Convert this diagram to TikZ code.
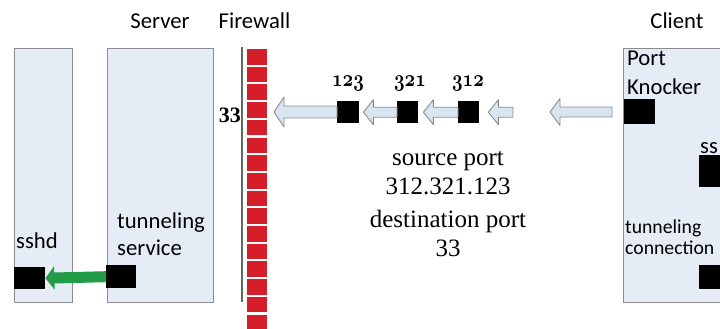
\documentclass[tikz,border=0pt]{standalone}
\usepackage{fontspec}
\usepackage{graphicx}
\setmainfont{Liberation Serif}
\newfontfamily\calfont{Carlito}
\usetikzlibrary{calc,arrows.meta}
\definecolor{panelfill}{RGB}{229,236,245}
\definecolor{panelline}{RGB}{140,140,140}
\definecolor{arrfill}{RGB}{218,229,242}
\definecolor{brickred}{RGB}{214,30,42}
\definecolor{greenarr}{RGB}{34,156,70}
\newcommand\hollowarrow[4]{% #1 tail, #2 tip, #3 head half-height, #4 shaft half-height
  \draw[hollow] let \p1=(#1), \p2=(#2) in
   (\x2,\y2) -- (\x2+10pt,\y2+#3) -- (\x2+10pt,\y2+#4) -- (\x1,\y2+#4)
   -- (\x1,\y2-#4) -- (\x2+10pt,\y2-#4) -- (\x2+10pt,\y2-#3) -- cycle;}
\newcommand\osf[1]{\scalebox{0.74}[0.95]{\fontsize{24.88}{26}\usefont{OML}{cmm}{b}{it}#1}}
\begin{document}
\begin{tikzpicture}[x=1pt,y=-1pt,
  panel/.style={draw=panelline,line width=1.1pt,fill=panelfill,anchor=north west,inner sep=0pt},
  blk/.style={fill=black,anchor=north west,inner sep=0pt},
  hollow/.style={draw=panelline,line width=0.9pt,fill=arrfill,line join=round},
  sanslbl/.style={font=\calfont\fontsize{22.7}{27}\selectfont,inner sep=0pt},
  smalllbl/.style={font=\calfont\fontsize{19.7}{21}\selectfont,inner sep=0pt},
  seriflbl/.style={font=\fontsize{25}{31}\selectfont,inner sep=0pt,anchor=base},
  numlbl/.style={inner sep=0pt,anchor=base},
  brick/.style={fill=brickred}]
\useasboundingbox (0,0) rectangle (720,329);
\clip (0,0) rectangle (720,329);
% panels
\node[panel,minimum width=58pt,minimum height=254pt] (sshdbox) at (14,48) {};
\node[panel,minimum width=106pt,minimum height=254pt] (srvbox) at (107,48) {};
\node[panel,minimum width=115pt,minimum height=254pt] (clibox) at (623,48) {};
% headers
\node[sanslbl,anchor=base] (hsrv) at (160,29) {Server};
\node[sanslbl,anchor=base] (hfw) at (254.5,29) {Firewall};
\node[sanslbl,anchor=base] (hcli) at (677,29) {Client};
% firewall
\draw[draw=gray!80!black,line width=1.2pt] (242,47) coordinate (fwtop) -- (242,302) coordinate (fwbot);
\foreach \i in {0,...,15}{
  \fill[brick] (247,{49+17.7*\i}) rectangle (267,{49+17.7*\i+15.6});
}
\node[font=\bfseries\fontsize{22}{24}\selectfont,inner sep=0pt,anchor=base east] (p33) at (241,122) {33};
% black squares
\node[blk,minimum width=31pt,minimum height=22pt] (sqsshd) at (14,267) {};
\node[blk,minimum width=30pt,minimum height=23pt] (sqtun) at (106,265) {};
\node[blk,minimum width=22pt,minimum height=22pt] (sq123) at (337,101) {};
\node[blk,minimum width=21pt,minimum height=22pt] (sq321) at (397,101) {};
\node[blk,minimum width=21pt,minimum height=22pt] (sq312) at (458,101) {};
\node[blk,minimum width=31pt,minimum height=25pt] (sqpk) at (624,99) {};
\node[blk,minimum width=30pt,minimum height=32pt] (sqssh) at (699,155) {};
\node[blk,minimum width=30pt,minimum height=24pt] (sqtc) at (699,265) {};
% port labels
\node[numlbl] (l123) at (348,86) {\osf{123}};
\node[numlbl] (l321) at (410,86) {\osf{321}};
\node[numlbl] (l312) at (468,86) {\osf{312}};
% hollow arrows
\coordinate (fwtip) at (274,112);
\coordinate (a3tail) at (513,112);
\coordinate (pktail) at (612,112);
\coordinate (pktip) at (550,112);
\hollowarrow{sq123.west}{fwtip}{15pt}{6pt}
\hollowarrow{sq321.west}{$(sq123.east)+(4,0)$}{12.5pt}{5pt}
\hollowarrow{sq312.west}{$(sq321.east)+(5,0)$}{12.5pt}{5pt}
\hollowarrow{a3tail}{$(sq312.east)+(9,0)$}{12.5pt}{5pt}
\hollowarrow{pktail}{pktip}{13.5pt}{5pt}
% green arrow
\draw[draw=greenarr,line width=11pt,-{Triangle[length=9pt,width=23pt]}] (sqtun.west) -- (sqsshd.east);
% text in panels
\node[sanslbl,anchor=base west] (tsshd) at (16,248) {sshd};
\node[sanslbl,anchor=base west] (ttun1) at (117,228) {tunneling};
\node[sanslbl,anchor=base west] (ttun2) at (117,255) {service};
\node[sanslbl,anchor=base west] (tport) at (627,66) {Port};
\node[sanslbl,anchor=base west] (tknock) at (627,94) {Knocker};
\node[sanslbl,anchor=base west] (tssh) at (700,153) {ss};
\node[smalllbl,anchor=base west] (ttc1) at (625,233) {tunneling};
\node[smalllbl,anchor=base west] (ttc2) at (625,254) {connection};
% description
\node[seriflbl] (d1) at (448,165) {source port};
\node[seriflbl] (d2) at (448,194) {312.321.123};
\node[seriflbl] (d3) at (448,227) {destination port};
\node[seriflbl] (d4) at (448,256) {33};
\end{tikzpicture}
\end{document}
